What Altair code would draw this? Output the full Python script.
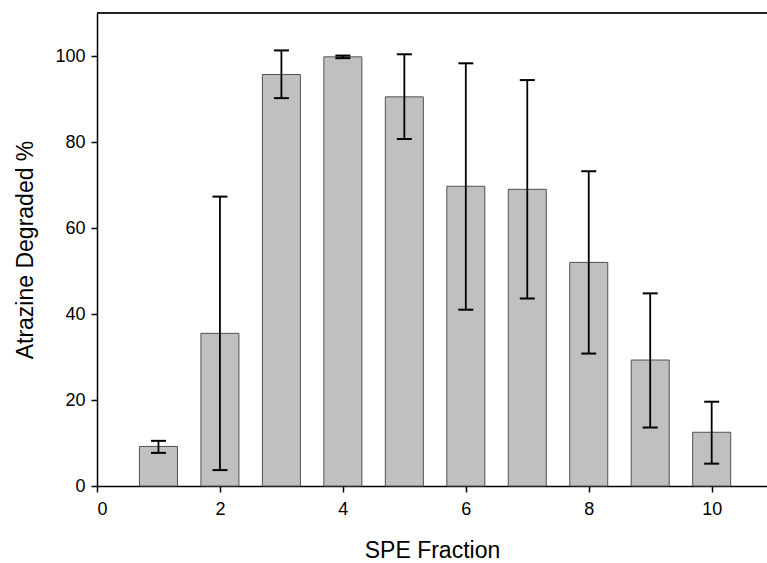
import altair as alt
import pandas as pd

fraction = [1, 2, 3, 4, 5, 6, 7, 8, 9, 10]
degraded = [9.2, 35.5, 95.7, 99.8, 90.5, 69.7, 69.0, 52.0, 29.3, 12.5]
err_low = [7.7, 3.7, 90.2, 99.5, 80.7, 41.0, 43.6, 30.8, 13.6, 5.2]
err_high = [10.5, 67.3, 101.3, 100.1, 100.4, 98.3, 94.4, 73.2, 44.8, 19.6]

df = pd.DataFrame({"SPE Fraction": fraction, "Degraded": degraded,
                   "lo": err_low, "hi": err_high})

FONT = "Liberation Sans"
xscale = alt.Scale(domain=[0, 10.9], nice=False, zero=False, padding=0)
yscale = alt.Scale(domain=[0, 110], nice=False, padding=0)

xaxis = alt.Axis(values=[0, 2, 4, 6, 8, 10], title="SPE Fraction", grid=False,
                 tickSize=6, labelPadding=8, titlePadding=21, labelFontSize=18,
                 titleFontSize=23, labelFont=FONT, titleFont=FONT,
                 labelColor="black", titleColor="black", titleFontWeight="normal",
                 domainColor="black", tickColor="black", domainWidth=1.5, tickWidth=1.5,
                 format="d")
yaxis = alt.Axis(values=[0, 20, 40, 60, 80, 100], title="Atrazine Degraded %", grid=False,
                 tickSize=6, labelPadding=6, titlePadding=17, labelFontSize=18,
                 titleFontSize=23, labelFont=FONT, titleFont=FONT,
                 labelColor="black", titleColor="black", titleFontWeight="normal",
                 domainColor="black", tickColor="black", domainWidth=1.5, tickWidth=1.5)

bars = alt.Chart(df).mark_bar(size=38, color="#c0c0c0", stroke="#505050",
                               strokeWidth=1).encode(
    x=alt.X("SPE Fraction:Q", scale=xscale, axis=xaxis),
    y=alt.Y("Degraded:Q", scale=yscale, axis=yaxis),
)

stems = alt.Chart(df).mark_rule(color="black", strokeWidth=1.8).encode(
    x=alt.X("SPE Fraction:Q", scale=xscale),
    y=alt.Y("lo:Q", scale=yscale),
    y2="hi:Q",
)

caps_hi = alt.Chart(df).mark_tick(orient="horizontal", size=15, thickness=2,
                                  color="black", opacity=1).encode(
    x=alt.X("SPE Fraction:Q", scale=xscale),
    y=alt.Y("hi:Q", scale=yscale),
)
caps_lo = alt.Chart(df).mark_tick(orient="horizontal", size=15, thickness=2,
                                  color="black", opacity=1).encode(
    x=alt.X("SPE Fraction:Q", scale=xscale),
    y=alt.Y("lo:Q", scale=yscale),
)

top = alt.Chart(pd.DataFrame({"t": [110]})).mark_rule(color="#222222",
                                                        strokeWidth=2).encode(
    y=alt.Y("t:Q", scale=yscale),
)

chart = alt.layer(bars, stems, caps_hi, caps_lo, top).properties(
    width=670, height=473,
    autosize=alt.AutoSizeParams(type="none"),
    padding={"left": 97, "top": 13, "right": 0, "bottom": 77},
    background="white",
).configure_view(stroke=None)

chart.save("out.html", embed_options={"renderer": "svg", "actions": False})
